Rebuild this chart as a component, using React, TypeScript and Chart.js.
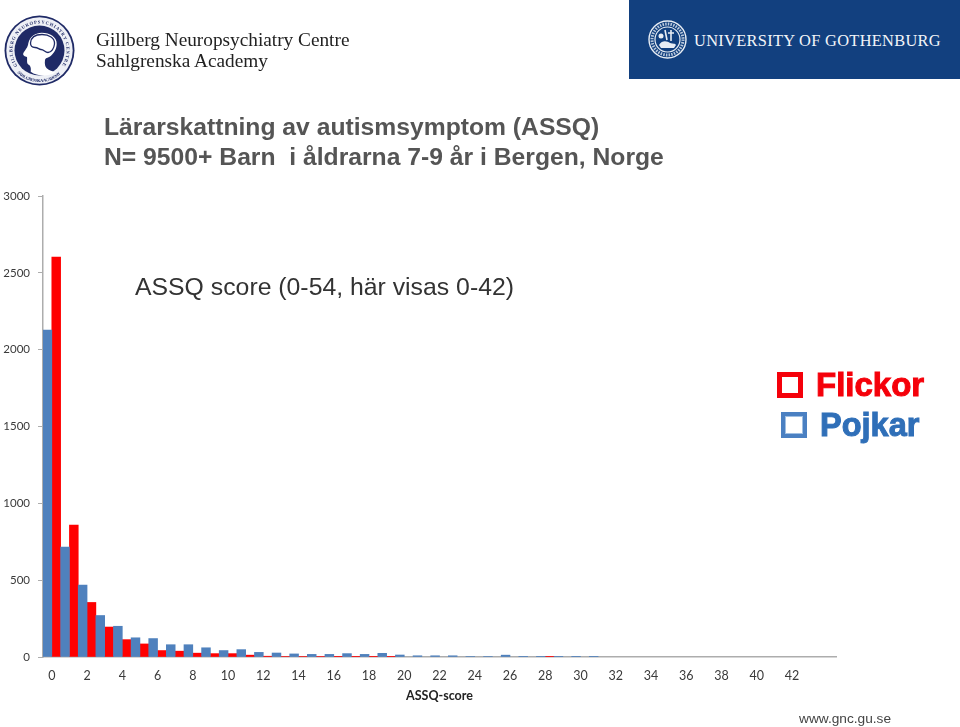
import React, { useEffect, useRef } from "react";
import { Chart, registerables } from "chart.js";

Chart.register(...registerables);

const scores = Array.from({ length: 45 }, (_, i) => String(i));
const pojkar = [2128, 716, 468, 270, 200, 125, 120, 80, 80, 60, 42, 48, 30, 26, 20, 17, 17, 22, 17, 24, 13, 8, 8, 8, 3, 3, 12, 1, 1, 1, 1, 1, 0, 0, 0, 0, 0, 0, 0, 0, 0, 0, 0, 0, 0];
const flickor = [2603, 859, 355, 195, 113, 85, 42, 38, 25, 22, 22, 12, 5, 3, 3, 3, 1, 1, 1, 1, 0, 0, 0, 0, 0, 0, 0, 0, 1, 0, 0, 0, 0, 0, 0, 0, 0, 0, 0, 0, 0, 0, 0, 0, 0];
const titleLines = ["Lärarskattning av autismsymptom (ASSQ)", "N= 9500+ Barn  i åldrarna 7-9 år i Bergen, Norge"];
const subtitle = "ASSQ score (0-54, här visas 0-42)";
const axisFont = "Lato, 'Open Sans', sans-serif";
const dropZero = (values: number[]) => values.map((v) => (v === 0 ? null : v));

const abs = (left: number, top: number, extra: React.CSSProperties = {}): React.CSSProperties => ({
  position: "absolute", left, top, whiteSpace: "pre", lineHeight: 1, ...extra,
});

function LeftLogo() {
  return (
    <svg style={{ position: "absolute", left: 4, top: 15 }} width={71} height={71} viewBox="0 0 71 71">
      <circle cx="35.5" cy="35.5" r="35" fill="#1f2a66" />
      <circle cx="35.5" cy="35.5" r="33.2" fill="#eef0f6" />
      <circle cx="35.5" cy="35.5" r="25" fill="#1f2a66" />
      <defs>
        <path id="ringTop" d="M13.4 51 A 27 27 0 1 1 57.6 51" />
        <path id="ringBottom" d="M13.2 57.8 A 31.5 31.5 0 0 0 57.8 57.8" />
      </defs>
      <text fontFamily="'Liberation Serif'" fontSize="4.6" fontWeight="bold" fill="#1f2a66">
        <textPath href="#ringTop" textLength="116" lengthAdjust="spacing">GILLBERG NEUROPSYCHIATRY CENTRE</textPath>
      </text>
      <text fontFamily="'Liberation Serif'" fontSize="4.2" fontWeight="bold" fill="#1f2a66">
        <textPath href="#ringBottom" textLength="48" lengthAdjust="spacing">SAHLGRENSKA ACADEMY</textPath>
      </text>
      <path d="M24.3 28.3 C26 21 32 17.7 37.7 17.7 C46 17.7 53 22 52.7 29 C52.5 35 49.5 38 47.7 40 C45 43 41.5 42.5 41 45 C40.5 49 41 51.5 42.7 53.3 C45 55.5 49 56 51 57.7 C44 61.5 33 61.5 26.7 56.7 C27 54 27 52 25.3 50 C22 49 23.5 45 23 42 C21 41.5 18.5 40.5 19.3 38.3 C21 35 24 32.5 24.3 28.3 Z" fill="#ffffff" />
      <path d="M26.5 28 C27 21 32 19.5 38 19.5 C45 19.5 51 23 50.5 29 C50 33.5 47.5 37.5 44 37.5 C41 37.5 40 34.5 37 34.5 C35 34.5 34 32.5 31 32.5 C28.5 32.5 26.5 31 26.5 28 Z" fill="none" stroke="#1f2a66" strokeWidth="1.3" />
    </svg>
  );
}

function Seal() {
  return (
    <svg style={{ position: "absolute", left: 648, top: 20 }} width={39} height={39} viewBox="0 0 39 39">
      <circle cx="19.5" cy="19.5" r="18.5" fill="none" stroke="#e8edf4" strokeWidth="1.4" />
      <circle cx="19.5" cy="19.5" r="12.5" fill="none" stroke="#e8edf4" strokeWidth="1.2" />
      <circle cx="19.5" cy="19.5" r="15.5" fill="none" stroke="#b9c8dc" strokeWidth="3" strokeDasharray="1.5 1.2" />
      <path d="M11 25 C14 20 19 21 22 23 C25 24 27 23 28 25 L26 28 L13 28 Z" fill="#e8edf4" />
      <path d="M17 10 L19 20 M23 10 L23 21 M20 13 L26 13" stroke="#e8edf4" strokeWidth="1.6" fill="none" />
      <circle cx="13" cy="16" r="2.5" fill="#e8edf4" />
    </svg>
  );
}

function Box({ left, top, size, border, color, shadow }: { left: number; top: number; size: number; border: number; color: string; shadow?: string }) {
  return <div style={{ position: "absolute", left, top, width: size, height: size, boxSizing: "border-box", border: `${border}px solid ${color}`, background: "#fff", boxShadow: shadow }} />;
}

export default function App() {
  const ref = useRef<HTMLCanvasElement>(null);
  useEffect(() => {
    const chart = new Chart(ref.current!, {
      type: "bar",
      data: {
        labels: scores,
        datasets: [
          { label: "Pojkar", data: dropZero(pojkar), backgroundColor: "#4f81bd", barPercentage: 1, categoryPercentage: 1 },
          { label: "Flickor", data: dropZero(flickor), backgroundColor: "#ff0000", barPercentage: 1, categoryPercentage: 1 },
        ],
      },
      options: {
        animation: false,
        responsive: false,
        layout: { padding: { top: 196, right: 124, left: 0, bottom: 24 } },
        plugins: { legend: { display: false }, title: { display: false }, tooltip: { enabled: false } },
        scales: {
          x: {
            grid: { display: false, drawTicks: false },
            border: { color: "#adadad", width: 1.5 },
            ticks: {
              autoSkip: false, maxRotation: 0, padding: 11,
              color: "#3a3a3a", font: { family: axisFont, size: 12.5 },
              callback: (_v: any, i: number) => (i % 2 === 0 && i <= 42 ? scores[i] : ""),
            },
            title: { display: true, text: "ASSQ-score", color: "#222", font: { family: axisFont, size: 12.5, weight: "bold" }, padding: { top: 3, bottom: 0 } },
            afterFit: (s: any) => { s.height = 46; },
          },
          y: {
            min: 0, max: 3000,
            grid: { display: true, drawOnChartArea: false, drawTicks: true, tickLength: 5, color: "#adadad" },
            border: { color: "#adadad", width: 1.5 },
            ticks: { stepSize: 500, padding: 8, color: "#3a3a3a", font: { family: axisFont, size: 11.5 }, callback: (v: any) => String(v) },
            afterFit: (s: any) => { s.width = 43; },
          },
        },
      },
    } as any);
    return () => chart.destroy();
  }, []);

  const sans = "'Liberation Sans', Arial, sans-serif";
  const serif = "'Liberation Serif', serif";
  return (
    <div style={{ position: "absolute", left: 0, top: 0, width: 960, height: 727, background: "#fff", overflow: "hidden" }}>
      <canvas ref={ref} width={960} height={727} style={{ position: "absolute", left: 0, top: 0, display: "block" }} />
      <LeftLogo />
      <div style={abs(96, 29, { font: `19.3px ${serif}`, color: "#222" })}>Gillberg Neuropsychiatry Centre</div>
      <div style={abs(96, 50, { font: `19.3px ${serif}`, color: "#222" })}>Sahlgrenska Academy</div>
      <div style={{ position: "absolute", left: 629, top: 0, width: 331, height: 79, background: "#12407f" }} />
      <Seal />
      <div style={abs(694, 31, { font: `16.4px ${serif}`, color: "#f2f5f9", letterSpacing: 0.3 })}>UNIVERSITY OF GOTHENBURG</div>
      <div style={abs(104, 113, { font: `bold 24.7px ${sans}`, color: "#555" })}>{titleLines[0]}</div>
      <div style={abs(104, 143, { font: `bold 24.7px ${sans}`, color: "#555" })}>{titleLines[1]}</div>
      <div style={abs(135, 273, { font: `24.8px ${sans}`, color: "#333" })}>{subtitle}</div>
      <Box left={777} top={372} size={26} border={5} color="#f5000a" />
      <div style={abs(816, 366, { font: `bold 33px ${sans}`, color: "#f5000a", WebkitTextStroke: "1px #f5000a" })}>Flickor</div>
      <Box left={781} top={412} size={26} border={4} color="#4a80c2" shadow="inset 0 0 0 1px #9fbfe3" />
      <div style={abs(820, 407, { font: `bold 32.5px ${sans}`, color: "#2f6fb8", WebkitTextStroke: "1px #2f6fb8" })}>Pojkar</div>
      <div style={abs(799, 711, { font: `13.7px ${sans}`, color: "#444" })}>www.gnc.gu.se</div>
    </div>
  );
}
